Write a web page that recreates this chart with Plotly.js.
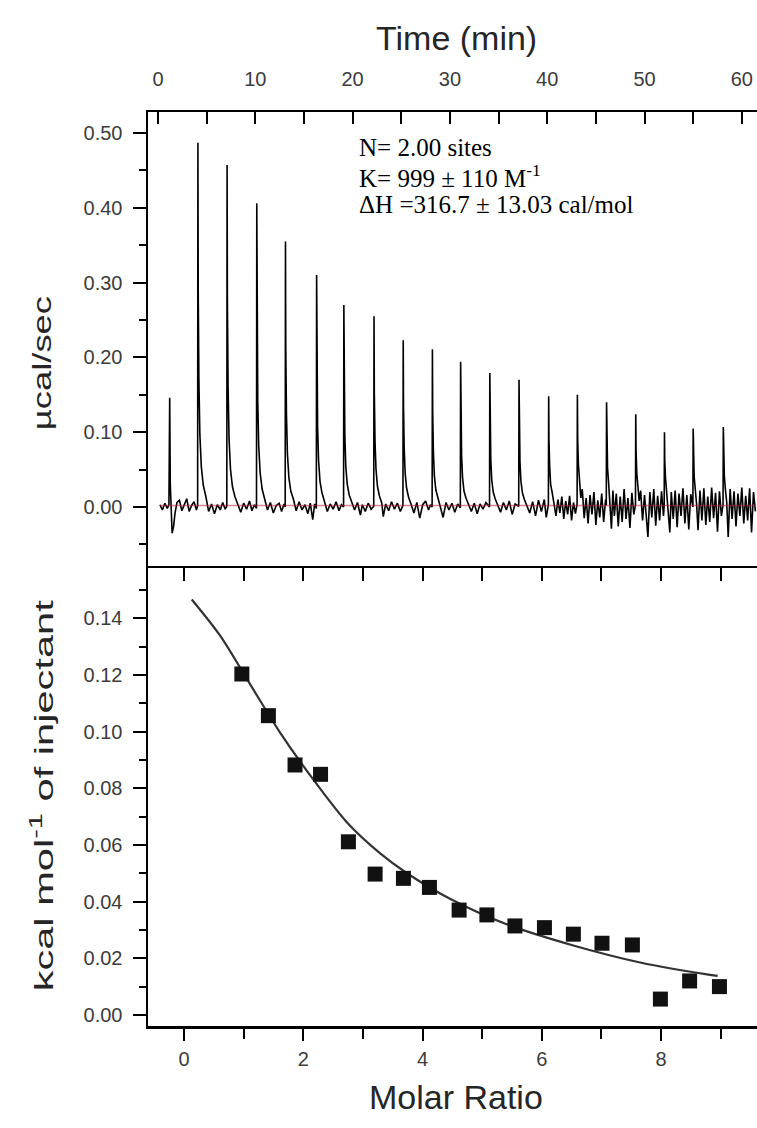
<!DOCTYPE html>
<html>
<head>
<meta charset="utf-8">
<script src="https://cdn.plot.ly/plotly-3.0.1.min.js"></script>
<style>
html,body{margin:0;padding:0;background:#fff;}
#chart{width:757px;height:1128px;}
</style>
</head>
<body>
<div id="chart"></div>
<script>
// ---------- Raw ITC thermogram (Time in min, power in µcal/sec) ----------
const rawTime = [
0.2,0.45,0.7,0.95,1.12,1.2,1.26,1.35,1.45,1.6,1.75,1.95,2.2,2.45,2.7,2.95,3.2,3.45,3.7,3.95,4.07,
4.1,4.13,4.2,4.3,4.45,4.65,4.9,5.2,5.5,5.8,6.1,6.4,6.65,6.9,7.07,
7.1,7.13,7.2,7.3,7.45,7.65,7.9,8.2,8.5,8.8,9.1,9.4,9.65,9.9,10.12,
10.15,10.18,10.25,10.35,10.5,10.7,10.95,11.25,11.55,11.85,12.15,12.45,12.7,12.95,13.07,
13.1,13.13,13.2,13.3,13.45,13.65,13.9,14.2,14.5,14.8,15.1,15.4,15.65,15.9,16.1,16.27,
16.3,16.33,16.4,16.5,16.65,16.85,17.1,17.4,17.7,18.0,18.3,18.6,18.85,19.07,
19.1,19.13,19.2,19.3,19.45,19.65,19.9,20.2,20.5,20.8,21.0,21.3,21.6,21.9,22.17,
22.2,22.23,22.3,22.4,22.55,22.75,23.0,23.15,23.4,23.7,24.0,24.3,24.6,24.9,25.17,
25.2,25.23,25.3,25.4,25.55,25.75,26.0,26.3,26.6,26.9,27.2,27.5,27.8,28.0,28.17,
28.2,28.23,28.3,28.4,28.55,28.75,29.0,29.3,29.6,29.9,30.2,30.5,30.8,31.07,
31.1,31.13,31.2,31.3,31.45,31.65,31.9,32.2,32.5,32.8,33.1,33.4,33.7,34.07,
34.1,34.13,34.2,34.3,34.45,34.65,34.9,35.2,35.5,35.8,36.1,36.4,36.7,37.07,
37.1,37.13,37.2,37.3,37.45,37.65,37.9,38.2,38.5,38.8,39.1,39.4,39.7,39.9,40.12,
40.15,40.18,40.25,40.35,40.5,40.7,40.9,41.1,41.3,41.5,41.7,41.9,42.1,42.3,42.5,42.7,42.9,43.07,
43.1,43.13,43.2,43.3,43.45,43.6,43.8,44.0,44.2,44.4,44.6,44.8,45.0,45.2,45.4,45.6,45.8,46.0,46.07,
46.1,46.13,46.2,46.3,46.45,46.6,46.75,46.9,47.1,47.3,47.5,47.7,47.9,48.1,48.3,48.5,48.7,48.9,49.07,
49.1,49.13,49.2,49.3,49.45,49.6,49.8,50.0,50.2,50.35,50.55,50.75,50.95,51.15,51.35,51.55,51.75,51.95,52.02,
52.05,52.08,52.15,52.25,52.4,52.6,52.75,52.95,53.15,53.35,53.55,53.75,53.95,54.15,54.35,54.55,54.75,54.97,
55.0,55.03,55.1,55.2,55.35,55.5,55.7,55.9,56.1,56.3,56.5,56.7,56.9,57.1,57.3,57.5,57.7,57.9,58.07,
58.1,58.13,58.2,58.3,58.45,58.6,58.8,59.0,59.2,59.4,59.6,59.8,60.0,60.2,60.4,60.6,60.8,61.0,61.2,61.4
];
const rawPower = [
0.003,-0.004,0.005,-0.002,0.003,0.146,0.03,-0.012,-0.035,-0.026,-0.008,0.006,0.009,-0.005,0.004,0.011,-0.006,0.002,0.007,-0.004,0.002,
0.487,0.292,0.170,0.097,0.054,0.029,0.015,-0.006,0.004,-0.009,0.003,-0.004,0.006,-0.003,0.001,
0.457,0.274,0.160,0.091,0.050,0.027,0.014,0.002,-0.007,0.005,-0.003,0.008,-0.005,0.003,-0.002,
0.406,0.244,0.142,0.081,0.045,0.024,0.012,-0.004,0.006,-0.008,0.002,0.005,-0.006,0.004,0.000,
0.355,0.213,0.124,0.071,0.039,0.021,0.011,-0.005,0.007,-0.004,0.003,-0.009,0.005,-0.017,0.004,-0.002,
0.310,0.186,0.109,0.062,0.034,0.019,0.009,-0.006,0.004,-0.003,0.007,-0.005,0.003,0.000,
0.270,0.162,0.095,0.054,0.030,0.016,0.008,-0.004,0.006,-0.011,0.003,-0.006,0.005,-0.003,0.001,
0.255,0.153,0.089,0.051,0.028,0.015,0.005,-0.013,0.004,-0.005,0.007,-0.003,0.005,-0.006,0.002,
0.223,0.134,0.078,0.045,0.025,0.013,0.004,-0.008,0.006,-0.015,0.003,0.008,-0.004,0.003,0.000,
0.211,0.127,0.074,0.042,0.023,0.013,0.004,-0.014,0.006,-0.004,0.005,-0.007,0.004,-0.001,
0.194,0.116,0.068,0.039,0.021,0.012,0.003,-0.006,0.005,-0.009,0.004,-0.003,0.006,0.000,
0.179,0.107,0.063,0.036,0.020,0.011,0.002,-0.007,0.006,-0.004,0.008,-0.010,0.004,0.001,
0.170,0.102,0.060,0.034,0.019,0.010,0.001,-0.008,0.007,-0.012,0.009,-0.006,0.010,-0.014,0.003,
0.148,0.089,0.055,0.030,0.020,0.004,-0.012,0.010,-0.008,0.014,-0.016,0.008,-0.010,0.015,-0.018,0.006,-0.009,0.004,
0.150,0.092,0.058,0.036,0.012,0.024,-0.015,0.012,-0.022,0.016,-0.010,0.020,-0.024,0.009,-0.014,0.018,-0.020,0.010,0.002,
0.140,0.086,0.052,0.034,0.006,-0.029,0.022,-0.012,0.018,-0.026,0.014,-0.020,0.024,-0.016,0.012,-0.028,0.019,-0.010,0.003,
0.124,0.076,0.046,0.030,0.008,0.022,-0.018,0.016,-0.022,-0.040,0.020,-0.014,0.024,-0.025,0.015,-0.018,0.021,-0.012,0.002,
0.100,0.062,0.040,0.024,0.010,-0.034,0.020,-0.016,0.022,-0.027,0.018,-0.012,0.025,-0.022,0.016,-0.030,0.017,0.000,
0.105,0.064,0.041,0.026,0.004,-0.031,0.022,-0.018,0.025,-0.024,0.014,-0.020,0.026,-0.015,0.019,-0.033,0.021,-0.012,0.003,
0.107,0.066,0.042,0.025,0.006,-0.040,0.024,-0.016,0.021,-0.026,0.018,-0.012,0.026,-0.022,0.015,-0.018,0.025,-0.034,0.020,-0.006
];
const baselineTime = [0.2, 61.4];
const baselinePower = [0.002, 0.002];

// ---------- Integrated heats ----------
const molarRatio = [0.97,1.415,1.862,2.29,2.757,3.205,3.68,4.116,4.614,5.08,5.55,6.045,6.53,7.01,7.52,7.99,8.48,8.98];
const heatPerMol = [0.1203,0.1056,0.0882,0.0849,0.0611,0.0497,0.0482,0.0450,0.0370,0.0353,0.0314,0.0308,0.0285,0.0253,0.0247,0.0056,0.0120,0.0100];

// ---------- Fitted curve ----------
const fitRatio = [0.13,0.6,1.1,1.6,2.17,2.73,3.29,3.74,4.46,5.41,6.53,7.65,8.77,8.95];
const fitHeat  = [0.1466,0.134,0.117,0.100,0.083,0.068,0.057,0.050,0.041,0.032,0.0245,0.0185,0.0143,0.0138];

// ---------- Text ----------
const timeTicks = [0,10,20,30,40,50,60];
const powerTicks = [0.00,0.10,0.20,0.30,0.40,0.50];
const ratioTicks = [0,2,4,6,8];
const heatTicks = [0.00,0.02,0.04,0.06,0.08,0.10,0.12,0.14];
const fitParams = ["N= 2.00 sites", "K= 999 ± 110 M<sup>-1</sup>", "ΔH =316.7 ± 13.03 cal/mol"];

// ---------- Layout geometry ----------
const W = 757, H = 1128;
const px = v => v / W;
const py = v => (H - v) / H;

const tickFont = {family: "Liberation Sans, Arial, sans-serif", size: 20, color: "#3c3c3c"};
const titleFont = {family: "Liberation Sans, Arial, sans-serif", size: 34, color: "#262626"};
const rotFont = {family: "Liberation Sans, Arial, sans-serif", size: 26, color: "#262626"};
const serifFont = {family: "Liberation Serif, Times New Roman, serif", size: 25, color: "#000"};
const lineW = 2.5;

const traces = [
  {x: rawTime, y: rawPower, type: "scatter", mode: "lines", xaxis: "x", yaxis: "y",
   line: {color: "#000000", width: 1.6}, hoverinfo: "skip"},
  {x: baselineTime, y: baselinePower, type: "scatter", mode: "lines", xaxis: "x", yaxis: "y",
   line: {color: "rgba(170,40,60,0.55)", width: 1.5}, hoverinfo: "skip"},
  {x: fitRatio, y: fitHeat, type: "scatter", mode: "lines", xaxis: "x2", yaxis: "y2",
   line: {color: "#333333", width: 2.2, shape: "spline", smoothing: 0.8}},
  {x: molarRatio, y: heatPerMol, type: "scatter", mode: "markers", xaxis: "x2", yaxis: "y2",
   marker: {symbol: "square", size: 15, color: "#111111"}},
  // invisible carrier so the top frame axis of the lower panel is drawn
  {x: [molarRatio[0]], y: [heatPerMol[0]], type: "scatter", mode: "markers", xaxis: "x4", yaxis: "y2",
   marker: {opacity: 0}, hoverinfo: "skip"}
];

const xDom = [px(148), 1];
const yTopDom = [py(568), py(112)];
const yBotDom = [py(1026), py(568)];

const layout = {
  width: W, height: H,
  margin: {l: 0, r: 0, t: 0, b: 0},
  paper_bgcolor: "#ffffff", plot_bgcolor: "#ffffff",
  showlegend: false,
  xaxis: {domain: xDom, anchor: "y", side: "top", range: [-1.03, 61.56],
    tickmode: "array", tickvals: timeTicks, ticktext: timeTicks.map(String),
    ticks: "inside", ticklen: 12, tickwidth: 2, tickcolor: "#000",
    minor: {dtick: 5, tick0: 0, ticks: "inside", ticklen: 12, tickwidth: 2, tickcolor: "#000"},
    showline: true, linewidth: lineW, linecolor: "#000", mirror: false,
    showgrid: false, zeroline: false, tickfont: tickFont, ticklabelstandoff: 16, automargin: false},
  yaxis: {domain: yTopDom, anchor: "x", range: [-0.0816, 0.528],
    tickmode: "array", tickvals: powerTicks, ticktext: powerTicks.map(v => v.toFixed(2)),
    ticks: "outside", ticklen: 13, tickwidth: 2, tickcolor: "#000",
    minor: {dtick: 0.05, tick0: 0, ticks: "outside", ticklen: 7, tickwidth: 2, tickcolor: "#000"},
    showline: true, linewidth: lineW, linecolor: "#000",
    showgrid: false, zeroline: false, tickfont: tickFont, ticklabelstandoff: 6, automargin: false},
  yaxis3: {domain: yTopDom, anchor: "x", overlaying: "y", side: "right", range: [-0.0816, 0.528],
    tickmode: "array", tickvals: powerTicks, showticklabels: false,
    ticks: "inside", ticklen: 9, tickwidth: 2, tickcolor: "#000",
    showline: false, showgrid: false, zeroline: false, automargin: false},
  xaxis2: {domain: xDom, anchor: "y2", range: [-0.604, 9.61],
    tickmode: "array", tickvals: ratioTicks, ticktext: ratioTicks.map(String),
    ticks: "outside", ticklen: 12, tickwidth: 2, tickcolor: "#000",
    minor: {dtick: 1, tick0: 0, ticks: "outside", ticklen: 10, tickwidth: 2, tickcolor: "#000"},
    showline: true, linewidth: lineW, linecolor: "#000",
    showgrid: false, zeroline: false, tickfont: tickFont, ticklabelstandoff: 1, automargin: false},
  xaxis4: {domain: xDom, anchor: "y2", overlaying: "x2", side: "top", range: [-0.604, 9.61],
    dtick: 1, tick0: 0, showticklabels: false,
    ticks: "inside", ticklen: 13, tickwidth: 2, tickcolor: "#000",
    showline: true, linewidth: lineW, linecolor: "#000",
    showgrid: false, zeroline: false, automargin: false},
  yaxis2: {domain: yBotDom, anchor: "x2", range: [-0.0039, 0.1577],
    tickmode: "array", tickvals: heatTicks, ticktext: heatTicks.map(v => v.toFixed(2)),
    ticks: "outside", ticklen: 13, tickwidth: 2, tickcolor: "#000",
    minor: {dtick: 0.01, tick0: 0, ticks: "outside", ticklen: 7, tickwidth: 2, tickcolor: "#000"},
    showline: true, linewidth: lineW, linecolor: "#000",
    showgrid: false, zeroline: false, tickfont: tickFont, ticklabelstandoff: 6, automargin: false},
  yaxis4: {domain: yBotDom, anchor: "x2", overlaying: "y2", side: "right", range: [-0.0039, 0.1577],
    tickmode: "array", tickvals: heatTicks, showticklabels: false,
    ticks: "inside", ticklen: 9, tickwidth: 2, tickcolor: "#000",
    showline: false, showgrid: false, zeroline: false, automargin: false},
  annotations: [
    {text: "Time (min)", xref: "paper", yref: "paper", x: px(456), y: py(38), xanchor: "center", yanchor: "middle",
     showarrow: false, font: titleFont},
    {text: "Molar Ratio", xref: "paper", yref: "paper", x: px(456), y: py(1097), xanchor: "center", yanchor: "middle",
     showarrow: false, font: titleFont},
    {text: "µcal/sec", xref: "paper", yref: "paper", x: px(42), y: py(363), xanchor: "center", yanchor: "middle",
     textangle: -90, showarrow: false, font: rotFont},
    {text: "kcal mol<sup>-1</sup> of injectant", xref: "paper", yref: "paper", x: px(42), y: py(796), xanchor: "center", yanchor: "middle",
     textangle: -90, showarrow: false, font: rotFont},
    {text: fitParams[0], xref: "paper", yref: "paper", x: px(357), y: py(147), xanchor: "left", yanchor: "middle",
     showarrow: false, font: serifFont},
    {text: fitParams[1], xref: "paper", yref: "paper", x: px(357), y: py(176), xanchor: "left", yanchor: "middle",
     showarrow: false, font: serifFont},
    {text: fitParams[2], xref: "paper", yref: "paper", x: px(357), y: py(205), xanchor: "left", yanchor: "middle",
     showarrow: false, font: serifFont}
  ]
};

// stretch factors along the reading direction of the two rotated titles
const rotStretch = {2: 1.4, 3: 1.6};

Plotly.newPlot("chart", traces, layout, {staticPlot: true, displayModeBar: false}).then(() => {
  const groups = document.querySelectorAll("#chart g.annotation");
  Object.keys(rotStretch).forEach(k => {
    const g = groups[+k];
    if (!g) return;
    const t = g.querySelector("text.annotation-text");
    if (!t) return;
    t.style.transformBox = "fill-box";
    t.style.transformOrigin = "center";
    t.style.transform = "scaleX(" + rotStretch[k] + ")";
  });
});
</script>
</body>
</html>
